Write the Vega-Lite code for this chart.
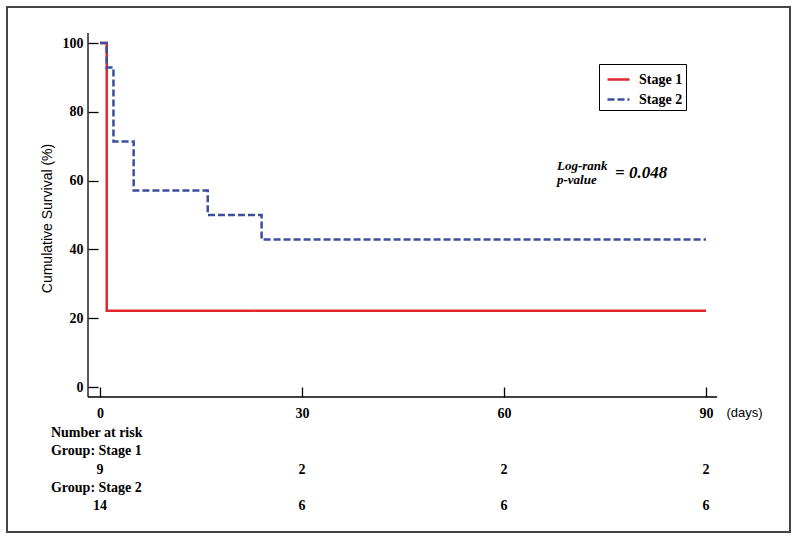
{
  "$schema": "https://vega.github.io/schema/vega-lite/v6.json",
  "width": 783,
  "height": 525,
  "autosize": "none",
  "padding": {"left": 7, "top": 7, "right": 9, "bottom": 9},
  "background": "white",
  "config": {
    "view": {"stroke": "#444", "strokeWidth": 2},
    "axis": {"grid": false, "domain": false, "tickColor": "black", "tickWidth": 1.3, "tickSize": -10,
      "labelFont": "Liberation Serif", "labelFontWeight": "bold", "labelFontSize": 14, "labelColor": "black",
      "titleFont": "Liberation Sans", "titleFontWeight": "normal", "titleColor": "black"}
  },
  "layer": [
    {
      "layer": [
        {
          "data": {"values": [{}]},
          "mark": {"type": "rule", "color": "black", "strokeWidth": 1.3},
          "encoding": {
            "x": {"datum": -1.78, "type": "quantitative"},
            "y": {"datum": -2.9, "type": "quantitative"},
            "y2": {"datum": 102.9}
          }
        },
        {
          "data": {"values": [{}]},
          "mark": {"type": "rule", "color": "black", "strokeWidth": 1.3},
          "encoding": {
            "y": {"datum": -2.9, "type": "quantitative"},
            "x": {"datum": -1.78, "type": "quantitative"},
            "x2": {"datum": 91.64}
          }
        },
        {
          "data": {"values": [
            {"group": "Stage 1", "day": 0, "surv": 100},
            {"group": "Stage 1", "day": 1, "surv": 22.2},
            {"group": "Stage 1", "day": 90, "surv": 22.2},
            {"group": "Stage 2", "day": 0, "surv": 100},
            {"group": "Stage 2", "day": 1, "surv": 92.9},
            {"group": "Stage 2", "day": 2, "surv": 71.4},
            {"group": "Stage 2", "day": 5, "surv": 57.1},
            {"group": "Stage 2", "day": 16, "surv": 50},
            {"group": "Stage 2", "day": 24, "surv": 42.9},
            {"group": "Stage 2", "day": 90, "surv": 42.9}
          ]},
          "mark": {"type": "line", "interpolate": "step-after", "strokeWidth": 2.5},
          "encoding": {
            "x": {"field": "day", "type": "quantitative",
              "scale": {"domain": [-13.81, 102.47], "nice": false, "zero": false},
              "axis": {"values": [0, 30, 60, 90], "offset": -135, "labelPadding": 19,
                "title": "(days)", "titleFontSize": 13, "titleX": 737, "titleY": 15,
                "titleAlign": "center", "titleBaseline": "middle"}},
            "y": {"field": "surv", "type": "quantitative",
              "scale": {"domain": [-42.15, 110.47], "nice": false, "zero": false},
              "axis": {"values": [0, 20, 40, 60, 80, 100], "offset": -81, "labelPadding": 15,
                "title": "Cumulative Survival (%)", "titleFontSize": 14, "titleX": -41, "titleY": 211,
                "titleAngle": -90, "titleAlign": "center", "titleBaseline": "middle"}},
            "color": {"field": "group", "type": "nominal",
              "scale": {"domain": ["Stage 1", "Stage 2"], "range": ["#e3262b", "#3d4d9f"]},
              "legend": {"orient": "none", "legendX": 592, "legendY": 57, "title": null,
                "strokeColor": "black", "fillColor": "white", "padding": 3,
                "labelFont": "Liberation Serif", "labelFontWeight": "bold", "labelFontSize": 14, "labelColor": "black",
                "labelExpr": "datum.label + '\u00a0\u00a0\u00a0\u00a0\u00a0\u00a0\u00a0'",
                "symbolType": "stroke", "symbolSize": 484, "symbolStrokeWidth": 2.5, "symbolOffset": 4,
                "labelOffset": 8, "rowPadding": -4}},
            "strokeDash": {"field": "group", "type": "nominal",
              "scale": {"domain": ["Stage 1", "Stage 2"], "range": [[1, 0], [7, 3]]}}
          }
        },
        {
          "data": {"values": [{}]},
          "mark": {"type": "text", "text": "Log-rank", "font": "Liberation Serif", "fontStyle": "italic", "fontWeight": "bold", "fontSize": 13, "align": "left", "baseline": "middle", "color": "black"},
          "encoding": {"x": {"datum": 67.87, "type": "quantitative"}, "y": {"datum": 64.25, "type": "quantitative"}}
        },
        {
          "data": {"values": [{}]},
          "mark": {"type": "text", "text": "p-value", "font": "Liberation Serif", "fontStyle": "italic", "fontWeight": "bold", "fontSize": 13, "align": "left", "baseline": "middle", "color": "black"},
          "encoding": {"x": {"datum": 67.87, "type": "quantitative"}, "y": {"datum": 60.18, "type": "quantitative"}}
        },
        {
          "data": {"values": [{}]},
          "mark": {"type": "text", "text": "= 0.048", "font": "Liberation Serif", "fontStyle": "italic", "fontWeight": "bold", "fontSize": 17, "align": "left", "baseline": "middle", "color": "black"},
          "encoding": {"x": {"datum": 76.49, "type": "quantitative"}, "y": {"datum": 62.21, "type": "quantitative"}}
        }
      ]
    },
    {
      "data": {"values": [
        {"line": "Number at risk", "label": "Number at risk"},
        {"line": "Group: Stage 1", "label": "Group: Stage 1"},
        {"line": "Stage 1", "day": 0, "label": "9"},
        {"line": "Stage 1", "day": 30, "label": "2"},
        {"line": "Stage 1", "day": 60, "label": "2"},
        {"line": "Stage 1", "day": 90, "label": "2"},
        {"line": "Group: Stage 2", "label": "Group: Stage 2"},
        {"line": "Stage 2", "day": 0, "label": "14"},
        {"line": "Stage 2", "day": 30, "label": "6"},
        {"line": "Stage 2", "day": 60, "label": "6"},
        {"line": "Stage 2", "day": 90, "label": "6"}
      ]},
      "layer": [
        {
          "transform": [{"filter": "isValid(datum.day)"}],
          "mark": {"type": "text", "font": "Liberation Serif", "fontWeight": "bold", "fontSize": 14, "align": "center", "baseline": "middle", "color": "black"},
          "encoding": {
            "x": {"field": "day", "type": "quantitative"},
            "y": {"field": "line", "type": "ordinal", "axis": null,
              "scale": {"type": "point", "domain": ["Number at risk", "Group: Stage 1", "Stage 1", "Group: Stage 2", "Stage 2"], "range": [426, 499], "padding": 0}},
            "text": {"field": "label"}
          }
        },
        {
          "transform": [{"filter": "!isValid(datum.day)"}],
          "mark": {"type": "text", "font": "Liberation Serif", "fontWeight": "bold", "fontSize": 14, "align": "left", "baseline": "middle", "color": "black"},
          "encoding": {
            "x": {"datum": -7.28, "type": "quantitative"},
            "y": {"field": "line", "type": "ordinal", "axis": null},
            "text": {"field": "label"}
          }
        }
      ]
    }
  ],
  "resolve": {"scale": {"y": "independent"}}
}
